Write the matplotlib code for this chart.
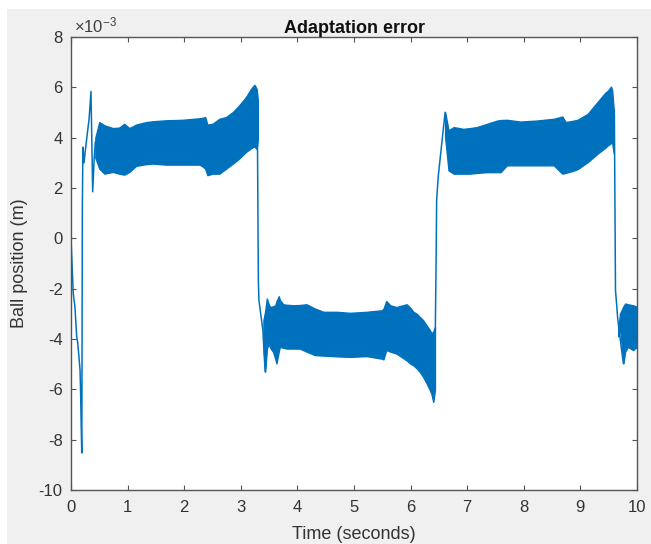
import numpy as np
import matplotlib
matplotlib.use('Agg')
import matplotlib.pyplot as plt
from matplotlib.patches import Rectangle

# values in units of 1e-3 m
# thin transient parts of the trace
t_seg0 = [0, 0.04, 0.07, 0.10, 0.12, 0.16, 0.17, 0.18, 0.19, 0.195, 0.20, 0.21, 0.23, 0.25, 0.29, 0.32, 0.353, 0.383, 0.41, 0.43]
e_seg0 = [0, -2.2, -2.73, -3.9, -4.17, -5.24, -6.15, -7.4, -8.53, -4.84, 1.11, 3.62, 3.0, 3.43, 4.2, 4.75, 5.84, 1.85, 3.2, 3.83]
t_seg1 = [3.29, 3.31, 3.32, 3.39, 3.43, 3.46]
e_seg1 = [5.5, -1.67, -2.46, -3.65, -5.3, -4.4]
t_seg2 = [6.43, 6.45, 6.46, 6.49, 6.55, 6.61, 6.64]
e_seg2 = [-5.0, -1.0, 1.51, 2.5, 3.76, 5.01, 4.4]
t_seg3 = [9.59, 9.60, 9.62, 9.66, 9.72, 9.76]
e_seg3 = [5.1, 4.96, -2.06, -3.2, -4.3, -4.97]

# envelopes of the fast oscillation (upper / lower)
t_band1 = [0.43, 0.50, 0.59, 0.74, 0.85, 0.94, 1.03, 1.15, 1.33, 1.44, 1.68, 1.97, 2.27, 2.33, 2.37, 2.41,
           2.50, 2.62, 2.74, 2.86, 2.97, 3.09, 3.18, 3.24, 3.28, 3.30]
hi_band1 = [4.0, 4.62, 4.49, 4.38, 4.40, 4.55, 4.38, 4.52, 4.62, 4.65, 4.69, 4.71, 4.77, 4.79, 4.82, 4.52,
            4.55, 4.75, 4.82, 5.02, 5.28, 5.61, 5.94, 6.10, 5.94, 5.5]
lo_band1 = [3.2, 2.77, 2.57, 2.64, 2.57, 2.53, 2.64, 2.88, 2.95, 2.97, 2.93, 2.93, 2.93, 2.85, 2.77, 2.51,
            2.57, 2.57, 2.77, 2.97, 3.17, 3.43, 3.58, 3.65, 3.55, 3.9]

t_band2 = [3.40, 3.43, 3.46, 3.49, 3.52, 3.57, 3.61, 3.63, 3.67, 3.69, 3.75, 3.81, 3.93, 4.04, 4.16, 4.31,
           4.46, 4.63, 4.70, 4.93, 5.22, 5.49, 5.52, 5.57, 5.64, 5.75, 5.93, 5.99, 6.05, 6.11, 6.16, 6.22,
           6.28, 6.34, 6.37, 6.40, 6.43]
hi_band2 = [-3.25, -2.9, -2.39, -2.6, -2.73, -2.7, -2.66, -2.5, -2.30, -2.45, -2.62, -2.64, -2.66, -2.65,
            -2.62, -2.79, -2.92, -2.92, -2.92, -2.96, -2.92, -2.86, -2.80, -2.49, -2.66, -2.73, -2.62, -2.75,
            -2.92, -3.0, -3.12, -3.25, -3.45, -3.65, -3.78, -3.70, -3.52]
lo_band2 = [-4.31, -5.30, -4.4, -4.18, -4.35, -4.51, -4.8, -4.97, -4.5, -4.31, -4.35, -4.38, -4.38, -4.38,
            -4.5, -4.64, -4.66, -4.68, -4.69, -4.71, -4.68, -4.78, -4.81, -4.44, -4.50, -4.58, -4.85, -4.97,
            -5.05, -5.17, -5.3, -5.50, -5.75, -6.03, -6.2, -6.50, -6.03]

t_band3 = [6.61, 6.67, 6.76, 6.93, 7.05, 7.17, 7.35, 7.53, 7.59, 7.70, 7.94, 8.23, 8.53, 8.68, 8.74, 8.89,
           8.95, 9.13, 9.30, 9.45, 9.48, 9.54, 9.56, 9.59]
hi_band3 = [5.01, 4.29, 4.42, 4.35, 4.38, 4.42, 4.55, 4.68, 4.70, 4.71, 4.64, 4.68, 4.75, 4.84, 4.62, 4.68,
            4.71, 4.95, 5.41, 5.81, 5.85, 6.03, 5.9, 5.08]
lo_band3 = [4.02, 2.70, 2.57, 2.57, 2.57, 2.60, 2.63, 2.63, 2.63, 2.90, 2.90, 2.90, 2.90, 2.57, 2.60, 2.70,
            2.75, 3.03, 3.36, 3.62, 3.69, 3.78, 3.82, 3.36]

t_band4 = [9.67, 9.70, 9.76, 9.79, 9.84, 9.93, 10.0]
hi_band4 = [-3.6, -2.99, -2.7, -2.59, -2.62, -2.66, -2.72]
lo_band4 = [-3.9, -3.52, -4.97, -4.5, -4.31, -4.44, -4.31]

x_ticks = list(range(0, 11))
y_ticks = list(range(-10, 9, 2))

blue = '#0072BD'

plt.rcParams['font.family'] = ['Liberation Sans', 'DejaVu Sans']
plt.rcParams['axes.unicode_minus'] = False
plt.rcParams['mathtext.fontset'] = 'custom'
plt.rcParams['mathtext.rm'] = 'Liberation Sans'
plt.rcParams['mathtext.it'] = 'Liberation Sans:italic'

fig = plt.figure(figsize=(6.51, 5.44), dpi=100)
fig.patch.set_facecolor('white')
fig.patches.append(Rectangle((7/651, 0), 1, 1 - 9/544, transform=fig.transFigure,
                             facecolor='#f0f0f0', edgecolor='none', zorder=-10))

ax = fig.add_axes([71/651, 54/544, 566/651, 453/544])
ax.set_facecolor('white')

for t, e in [(t_seg0, e_seg0), (t_seg1, e_seg1), (t_seg2, e_seg2), (t_seg3, e_seg3)]:
    ax.plot(t, e, color=blue, linewidth=1.1)

for t, hi, lo in [(t_band1, hi_band1, lo_band1), (t_band2, hi_band2, lo_band2),
                  (t_band3, hi_band3, lo_band3), (t_band4, hi_band4, lo_band4)]:
    ax.fill_between(t, lo, hi, color=blue, linewidth=1.0)

ax.set_xlim(0, 10)
ax.set_ylim(-10, 8)
ax.set_xticks(x_ticks)
ax.set_yticks(y_ticks)
ax.set_yticklabels([str(v) for v in y_ticks])
ax.text(0.006, 1.004, r'$\times\mathregular{10^{-3}}$', transform=ax.transAxes,
        ha='left', va='bottom', fontsize=12, color='#404040')

for s in ax.spines.values():
    s.set_color('#555555')
    s.set_linewidth(1.0)
ax.tick_params(direction='in', length=3.5, width=0.8, color='#555555',
               top=True, right=True, labelsize=12, labelcolor='#333333')
ax.tick_params(axis='x', pad=7)
ax.tick_params(axis='y', pad=6)

ax.set_title('Adaptation error', fontsize=13, fontweight='bold', pad=3, color='#111111')
ax.set_xlabel('Time (seconds)', fontsize=13, color='#333333')
ax.set_ylabel('Ball position (m)', fontsize=13, color='#333333')
ax.xaxis.set_label_coords(0.5, -0.08)
ax.yaxis.set_label_coords(-0.076, 0.5)

fig.savefig('out.png', dpi=100, facecolor=fig.get_facecolor())
